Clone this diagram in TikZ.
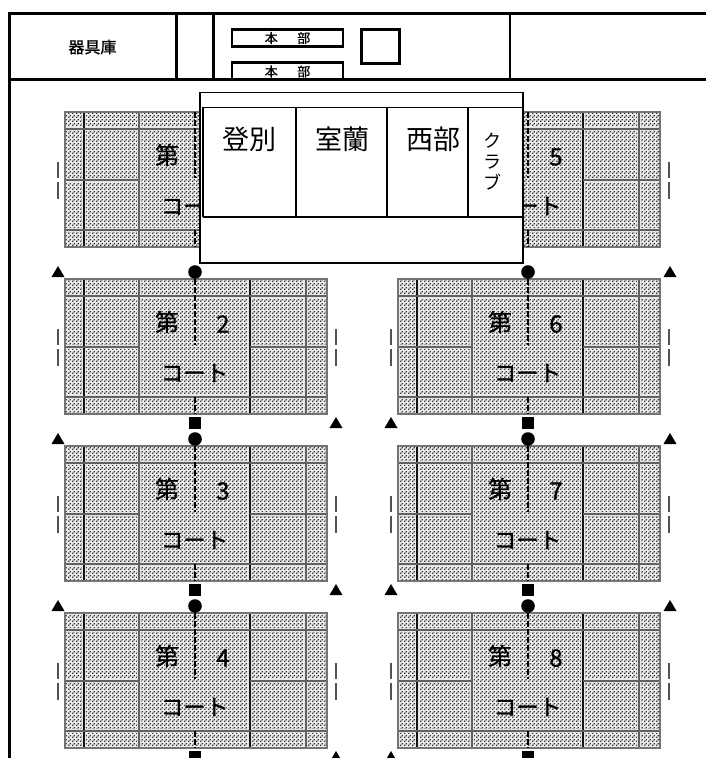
\documentclass[tikz,border=0pt]{standalone}
\usepackage{fontspec}
\usetikzlibrary{patterns}
\setmainfont{Noto Sans CJK JP}
\newfontfamily\heavyfont[RawFeature={embolden=0.8}]{Noto Sans CJK JP}
\pgfdeclarepatternformonly{halftone}{\pgfpointorigin}{\pgfqpoint{4pt}{4pt}}{\pgfqpoint{4pt}{4pt}}{%
  \pgfpathrectangle{\pgfqpoint{0pt}{0pt}}{\pgfqpoint{1.7pt}{1.7pt}}%
  \pgfpathrectangle{\pgfqpoint{2pt}{2pt}}{\pgfqpoint{1.7pt}{1.7pt}}%
  \pgfusepath{fill}}
\tikzset{
  wall/.style={line width=2.4pt,black},
  thinwall/.style={line width=1.7pt,black},
  courtfill/.style={fill=black!8},
  courtdots/.style={pattern=halftone,pattern color=black!78},
  halo/.style={line width=3.4pt,white!90!black},
  cline/.style={line width=2pt,black!62},
  cdark/.style={line width=1.7pt,black!92},
  cborder/.style={line width=2pt,black!55},
  netline/.style={line width=2.4pt,black,dash pattern=on 6pt off 2pt},
  side/.style={line width=1.4pt,black!68},
  blob/.style={fill=black,draw=none},
  courttext/.style={font=\heavyfont\fontsize{24}{24}\selectfont,inner sep=0pt},
  kototext/.style={font=\heavyfont\fontsize{22.5}{22.5}\selectfont,inner sep=0pt},
  labeltext/.style={font=\heavyfont\fontsize{16}{16}\selectfont,inner sep=0pt},
  hqtext/.style={font=\heavyfont\fontsize{13}{13}\selectfont,inner sep=0pt},
  bigtext/.style={font=\fontsize{27}{27}\selectfont,inner sep=0pt},
}
\begin{document}
\begin{tikzpicture}[x=1pt,y=-1pt]
\useasboundingbox (0,0) rectangle (706,758);
\clip (0,0) rectangle (706,758);
\fill[white] (0,0) rectangle (706,758);
% building frame
\draw[wall] (706,13.5) -- (9.5,13.5) -- (9.5,758);
\draw[wall] (9.5,79.5) -- (706,79.5);
\foreach \v in {176.5,213.5,510} \draw[wall] (\v,13.5) -- (\v,79.5);
\node[labeltext] (store) at (92.5,47) {器具庫};
\node[draw,wall,minimum width=111pt,minimum height=17pt,inner sep=0pt,hqtext] (hq1) at (287.5,38) {本\hspace{1.5em}部};
\draw[wall] (232,79.5) -- (232,62.5) -- (343,62.5) -- (343,79.5);
\node[hqtext] (hq2) at (287.5,71.5) {本\hspace{1.5em}部};
\node[draw,wall,minimum width=38pt,minimum height=34pt] (sq) at (380.5,46.5) {};
% courts
\foreach \cx/\cy/\cid/\num/\dai in {
  65/112/a//第,
  65/279/b/2/第,
  65/446/c/3/第,
  65/613/d/4/第,
  398/112/e/5/,
  398/279/f/6/第,
  398/446/g/7/第,
  398/613/h/8/第}{
  \begin{scope}[shift={(\cx,\cy)}]
    \fill[courtfill] (0,0) rectangle (262,135);
    \fill[courtdots] (0,0) rectangle (262,135);
    \foreach \u in {19,74,185,241} \draw[halo] (\u,0) -- (\u,135);
    \foreach \w in {17,118} \draw[halo] (0,\w) -- (262,\w);
    \draw[halo] (0,68) -- (74,68) (185,68) -- (262,68);
    \draw[cdark] (19,0) -- (19,135) (185,0) -- (185,135);
    \draw[cline] (74,0) -- (74,135) (241,0) -- (241,135);
    \draw[cline] (0,17) -- (262,17) (0,118) -- (262,118);
    \draw[cline] (0,68) -- (74,68) (185,68) -- (262,68);
    \draw[cborder] (0,0) rectangle (262,135);
    \draw[netline] (130,0) -- (130,66) (130,118) -- (130,135);
    \node[courttext] (dai\cid) at (102,43) {\dai};
    \node[courttext] (num\cid) at (158,45) {\num};
    \node[kototext] (kt\cid) at (129.5,94) {コート};
    \draw[side] (-7,50) -- (-7,66) (-7,70) -- (-7,87);
    \draw[side] (271,50) -- (271,66) (271,70) -- (271,87);
  \end{scope}
}
% markers
\foreach \px in {195,528}{
  \foreach \py in {272,439,606}{
    \fill[blob] (\px,\py) circle (6.8);
  }
  \foreach \py in {423,590,756.5}{
    \fill[blob] (\px-6,\py-6) rectangle (\px+6,\py+6);
  }
}
\foreach \px in {58,670}{
  \foreach \py in {272,439,606}{
    \fill[blob] (\px-6.5,\py+5) -- (\px+6.5,\py+5) -- (\px,\py-6) -- cycle;
  }
}
\foreach \px in {336,391}{
  \foreach \py in {423,590,757}{
    \fill[blob] (\px-6.5,\py+5) -- (\px+6.5,\py+5) -- (\px,\py-6) -- cycle;
  }
}
% overlay table
\draw[thinwall,fill=white] (200,92.5) rectangle (523,263);
\draw[thinwall] (203,217) -- (203,107.5) -- (523,107.5);
\draw[thinwall] (203,217) -- (523,217);
\foreach \v in {296,387,468} \draw[thinwall] (\v,107.5) -- (\v,217);
\node[bigtext] (t1) at (249,139) {登別};
\node[bigtext] (t2) at (342,139) {室蘭};
\node[bigtext] (t3) at (433,139) {西部};
\node[font=\fontsize{18}{21}\selectfont,inner sep=0pt,align=center] (t4) at (492,162) {ク\\ラ\\ブ};
\end{tikzpicture}
\end{document}
